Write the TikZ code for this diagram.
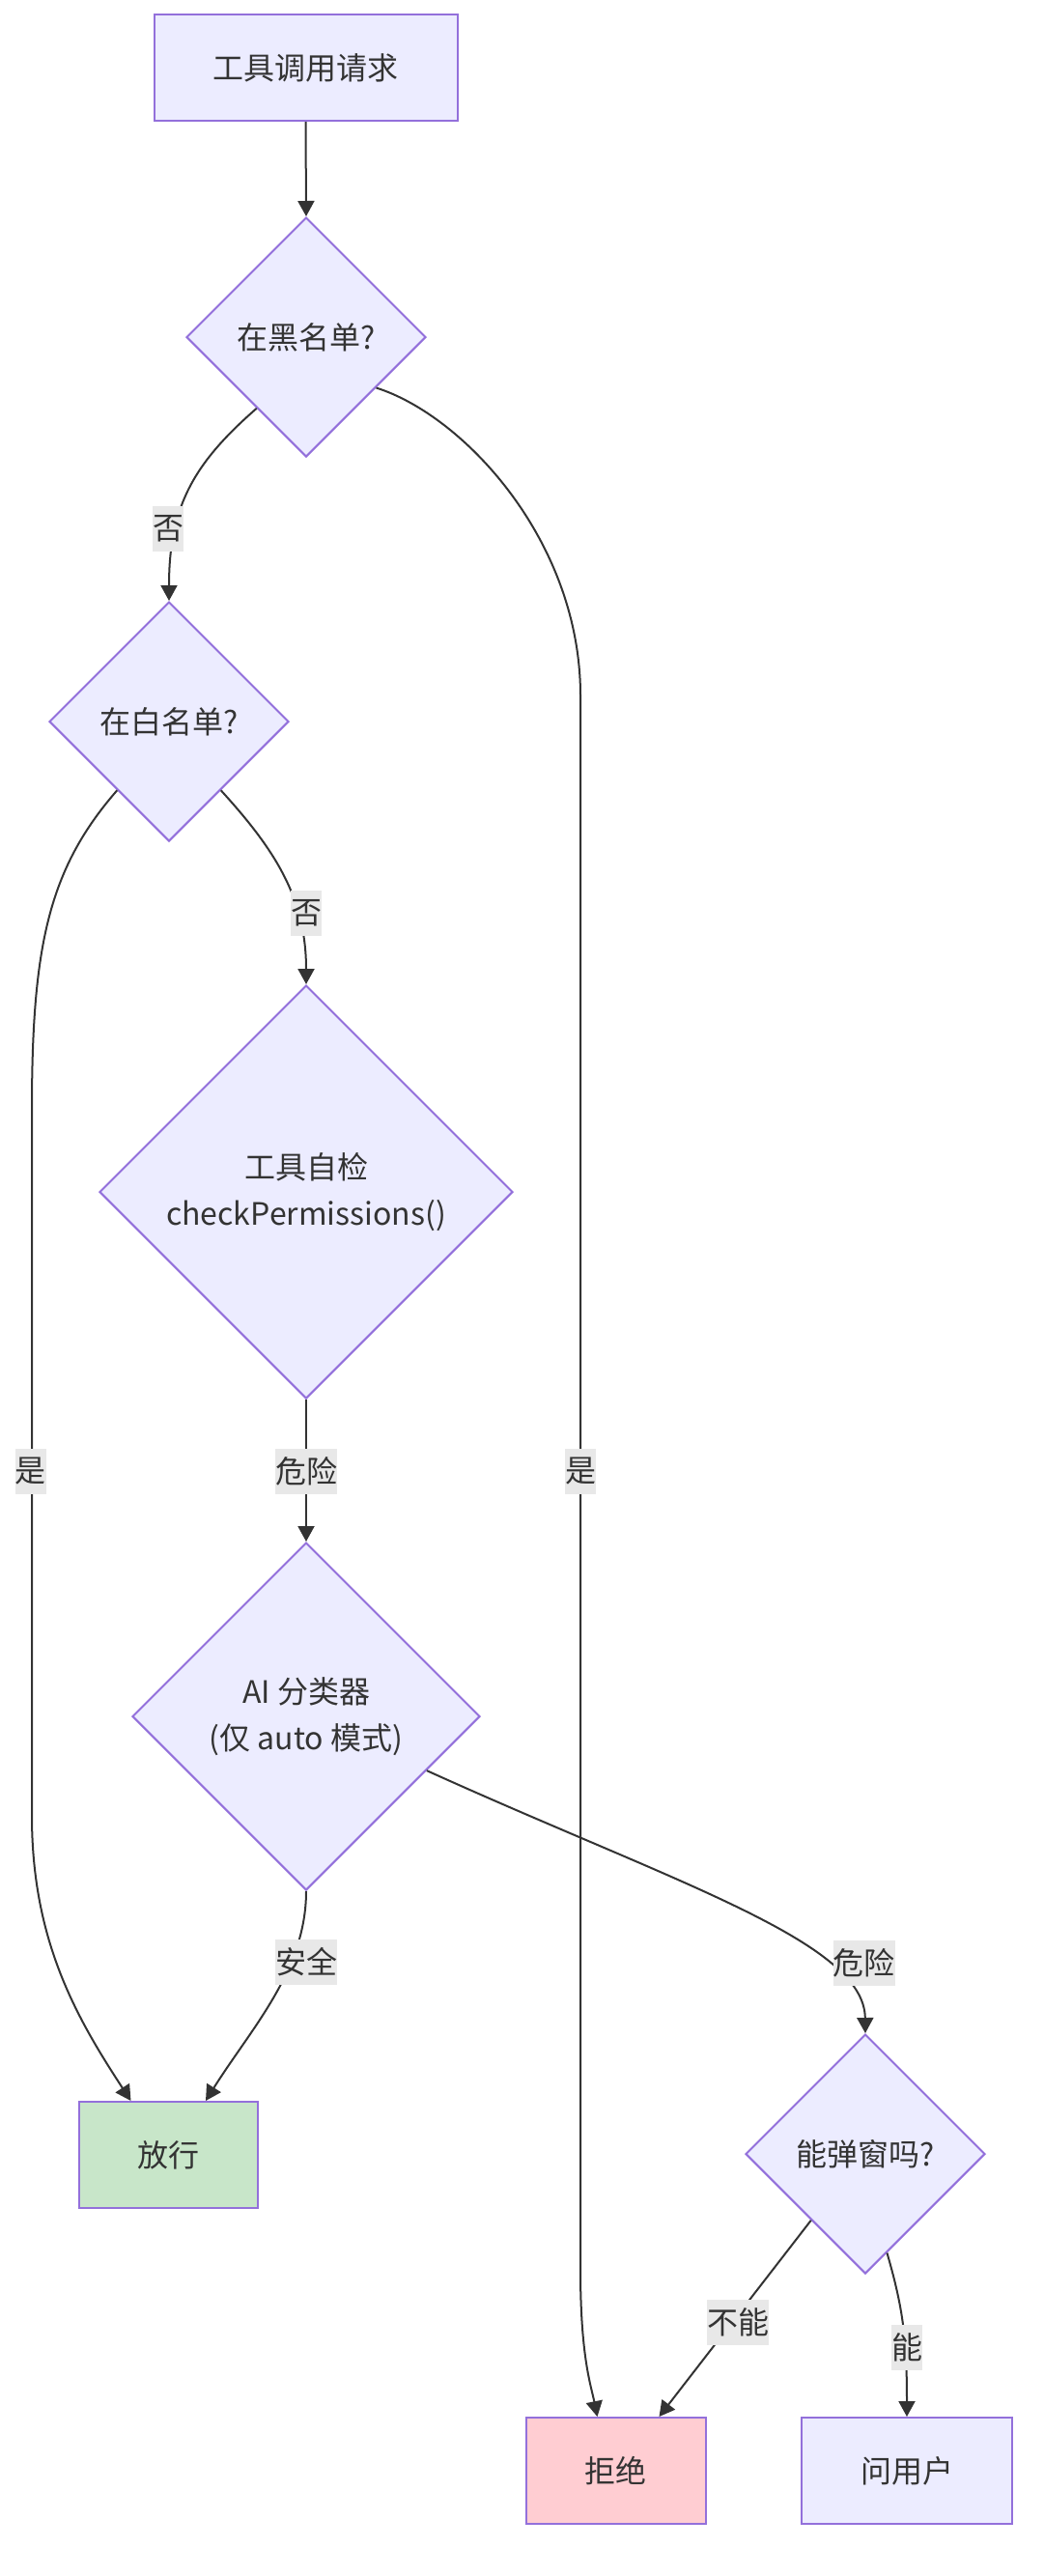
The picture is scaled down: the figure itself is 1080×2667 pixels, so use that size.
\documentclass[tikz,border=0pt]{standalone}
\usepackage{fontspec}
\setmainfont{Noto Sans CJK SC}
\usetikzlibrary{shapes.geometric,arrows.meta,calc}
\definecolor{nodefill}{HTML}{ECECFF}
\definecolor{nodestroke}{HTML}{9370DB}
\definecolor{passfill}{HTML}{C8E6C9}
\definecolor{rejectfill}{HTML}{FFCDD2}
\definecolor{lblfill}{HTML}{E8E8E8}
\definecolor{linecol}{HTML}{333333}
\definecolor{textcol}{HTML}{333333}
\begin{document}
\begin{tikzpicture}[x=1pt,y=-1pt,
  txt/.style={font=\fontsize{32}{48}\selectfont, text=textcol, align=center},
  boxnode/.style={txt, draw=nodestroke, line width=2pt, fill=nodefill, inner sep=0pt, minimum height=110pt},
  dianode/.style={txt, diamond, aspect=1, draw=nodestroke, line width=2pt, fill=nodefill, inner sep=0pt, minimum width=#1, minimum height=#1},
  lbl/.style={font=\fontsize{32}{40}\selectfont, text=textcol, fill=lblfill, inner xsep=0pt, inner ysep=0pt, minimum height=47pt},
  conn/.style={draw=linecol, line width=2pt, -{Triangle[length=16pt,width=17pt]}}
]
\fill[white] (0,0) rectangle (1080,2667);
\useasboundingbox (0,0) rectangle (1080,2667);

% nodes
\node[boxnode, minimum width=314pt] (start) at (316.5,70) {工具调用请求};
\node[dianode=248pt] (d1) at (317,349) {在黑名单?};
\node[dianode=248pt] (d2) at (175,747) {在白名单?};
\node[dianode=428pt] (d3) at (317,1234) {工具自检\\checkPermissions()};
\node[dianode=360pt] (d4) at (317,1777) {AI 分类器\\(仅 auto 模式)};
\node[dianode=248pt] (d5) at (896,2230) {能弹窗吗?};
\node[boxnode, fill=passfill, minimum width=185pt] (pass) at (174.5,2231) {放行};
\node[boxnode, fill=rejectfill, minimum width=186pt] (reject) at (637.5,2558) {拒绝};
\node[boxnode, minimum width=218pt] (ask) at (939,2558) {问用户};

% connectors
\draw[conn] (start.south) -- (d1.north);
\draw[conn] ($(d1.west)!0.59!(d1.south)$) .. controls (200,480) and (175,525) .. (d2.north);
\draw[conn] ($(d1.east)!0.42!(d1.south)$) .. controls (480,430) and (601,560) .. (601,720)
  -- (601,2350) .. controls (601,2440) and (612,2470) .. ([xshift=75pt]reject.north west);
\draw[conn] ($(d2.west)!0.57!(d2.south)$) .. controls (50,900) and (33,980) .. (33,1150)
  -- (33,1880) .. controls (33,2010) and (80,2090) .. ([xshift=54.5pt]pass.north west);
\draw[conn] ($(d2.east)!0.57!(d2.south)$) .. controls (285,880) and (317,930) .. (d3.north);
\draw[conn] (d3.south) -- (d4.north);
\draw[conn] (d4.south) .. controls (317,2040) and (260,2100) .. ([xshift=132pt]pass.north west);
\draw[conn] ($(d4.east)!0.31!(d4.south)$) .. controls (700,1950) and (895,2010) .. (d5.north);
\draw[conn] ($(d5.west)!0.55!(d5.south)$) -- ([xshift=139pt]reject.north west);
\draw[conn] ($(d5.east)!0.82!(d5.south)$) .. controls (935,2390) and (939,2420) .. (ask.north);

% labels
\node[lbl] (l1) at (174,547) {否};
\node[lbl] (l2) at (317,945) {否};
\node[lbl] (l3) at (601,1523) {是};
\node[lbl] (l4) at (32,1523) {是};
\node[lbl] (l5) at (317,1523) {危险};
\node[lbl] (l6) at (317,2031) {安全};
\node[lbl] (l7) at (894.5,2032) {危险};
\node[lbl] (l8) at (764,2404) {不能};
\node[lbl] (l9) at (939,2430) {能};
\end{tikzpicture}
\end{document}
